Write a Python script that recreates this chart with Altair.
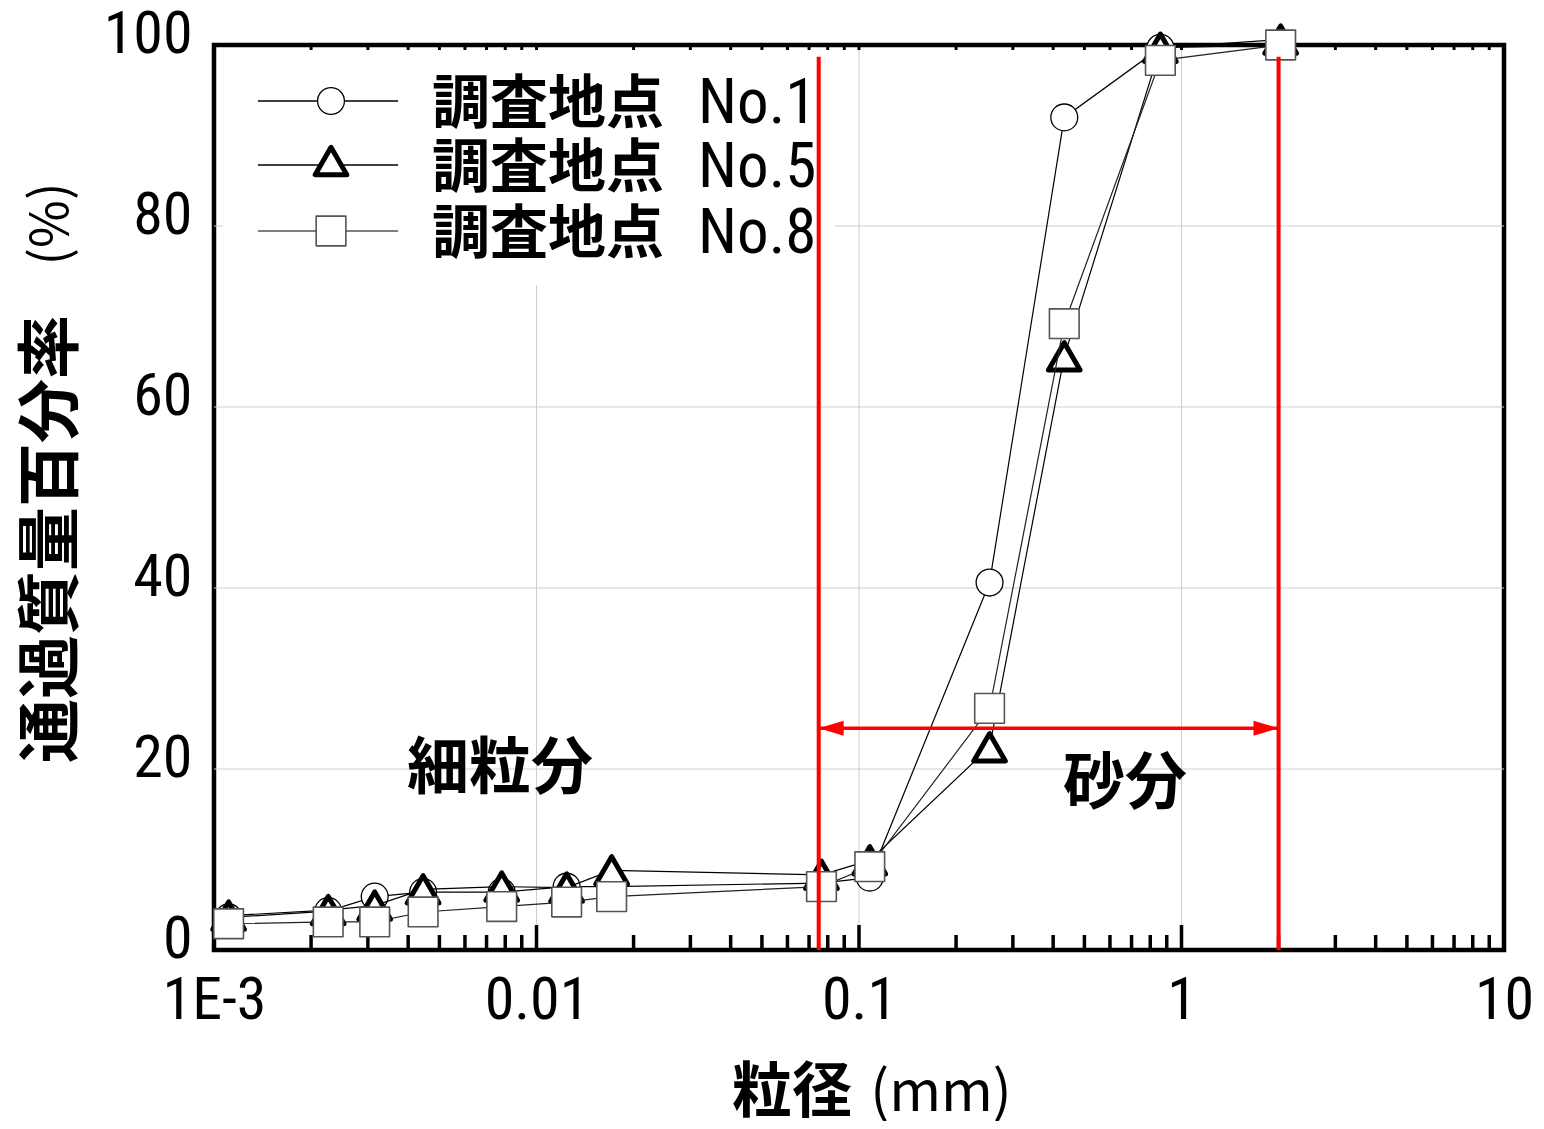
import altair as alt
import pandas as pd

# ---------------- data ----------------
size_mm = [0.00111, 0.00226, 0.00315, 0.00445, 0.0078, 0.0124, 0.0171,
           0.0765, 0.108, 0.254, 0.433, 0.86, 2.03]
no1 = [3.6, 4.3, 5.9, 6.4, 6.4, 7.0, 7.0, 7.4, 8.0, 40.6, 92.0, 99.7, 100.0]
no5 = [3.8, 4.4, 4.9, 6.7, 7.0, 6.9, 8.8, 8.3, 9.9, 22.4, 65.6, 99.7, 100.6]
no8 = [2.9, 3.1, 3.1, 4.2, 4.8, 5.3, 5.9, 7.0, 9.2, 26.7, 69.2, 98.3, 100.0]
series_prefix = "調査地点"
series_ids = ["No.1", "No.5", "No.8"]

x_ticks = [0.001, 0.01, 0.1, 1, 10]
x_tick_labels = ["1E-3", "0.01", "0.1", "1", "10"]
y_ticks = [0, 20, 40, 60, 80, 100]
x_grid = [0.01, 0.1, 1]
y_grid = [20, 40, 60, 80]
decades = [0.001, 0.01, 0.1, 1]
minor_mult = [2, 3, 4, 5, 6, 7, 8, 9]

boundaries = [0.075, 2.0]          # fine / sand limits (mm)
boundary_top = 98.7
arrow_level = 24.5
annot_text = ["細粒分", "砂分"]
annot_d = [0.0077, 0.668]
annot_v = [19.9, 18.2]

# ---------------- layout ----------------
W, H = 1290, 905
NARROW = ("Liberation Sans Narrow, Arial Narrow, Roboto Condensed, Noto Sans Condensed, "
          "DejaVu Sans Condensed, sans-serif")
CJK = "Noto Sans CJK JP"

label_expr = ""
for i, (v, lab) in enumerate(zip(x_ticks, x_tick_labels)):
    if i < len(x_ticks) - 1:
        label_expr += f"datum.value < {v * 3} ? '{lab}' : "
    else:
        label_expr += f"'{lab}'"

xscale = alt.Scale(type="log", domain=[0.001, 10], nice=False)
yscale = alt.Scale(domain=[0, 100], nice=False, zero=False)
xaxis = alt.Axis(values=x_ticks, labelExpr=label_expr, title=None, grid=False,
                 ticks=False, tickSize=0, domain=False, labelFont=NARROW,
                 labelFontSize=60, labelPadding=21, labelFlush=False,
                 labelOverlap=False, labelColor="black")
yaxis = alt.Axis(values=y_ticks, title=None, grid=False, ticks=False, tickSize=0,
                 domain=False, labelFont=NARROW, labelFontSize=60, labelPadding=22,
                 labelOffset=-11, labelOverlap=False, labelColor="black")


def X(f="d"):
    return alt.X(f"{f}:Q", scale=xscale, axis=xaxis)


def Y(f="v"):
    return alt.Y(f"{f}:Q", scale=yscale, axis=yaxis)


one = pd.DataFrame({"a": [0]})
layers = []

# grid lines
layers.append(alt.Chart(pd.DataFrame({"d": x_grid})).mark_rule(color="#cfcfcf", strokeWidth=1)
              .encode(x=X(), y=alt.value(0), y2=alt.value(H)))
layers.append(alt.Chart(pd.DataFrame({"v": y_grid})).mark_rule(color="#cfcfcf", strokeWidth=1)
              .encode(y=Y(), x=alt.value(0), x2=alt.value(W)))

# legend background
layers.append(alt.Chart(one).mark_rect(color="white")
              .encode(x=alt.value(9), x2=alt.value(621), y=alt.value(3), y2=alt.value(240)))

# inside tick marks
minor = [m * d for d in decades for m in minor_mult]
layers.append(alt.Chart(pd.DataFrame({"d": x_grid})).mark_rule(color="black", strokeWidth=3.5)
              .encode(x=X(), y=alt.value(H), y2=alt.value(H - 25)))
layers.append(alt.Chart(pd.DataFrame({"d": minor})).mark_rule(color="black", strokeWidth=3.5)
              .encode(x=X(), y=alt.value(H), y2=alt.value(H - 15)))
layers.append(alt.Chart(pd.DataFrame({"d": minor + x_grid})).mark_rule(color="black", strokeWidth=3)
              .encode(x=X(), y=alt.value(0), y2=alt.value(5)))

# series
styles = [
    dict(shape="circle", size=720, stroke="black", strokeWidth=1.3, line="black"),
    dict(shape="triangle-up", size=1000, stroke="black", strokeWidth=5, line="black"),
    dict(shape="square", size=880, stroke="#555555", strokeWidth=1.6, line="#222222"),
]
for vals, st in zip([no1, no5, no8], styles):
    df = pd.DataFrame({"d": size_mm, "v": vals})
    layers.append(alt.Chart(df).mark_line(color=st["line"], strokeWidth=1.2)
                  .encode(x=X(), y=Y()))
    layers.append(alt.Chart(df).mark_point(shape=st["shape"], size=st["size"], filled=True,
                                           fill="white", stroke=st["stroke"],
                                           strokeWidth=st["strokeWidth"], opacity=1,
                                           strokeJoin="round")
                  .encode(x=X(), y=Y()))

# red boundary lines and arrow
bdf = pd.DataFrame({"d": boundaries, "v": [0, 0], "v2": [boundary_top, boundary_top]})
layers.append(alt.Chart(bdf).mark_rule(color="#ff0000", strokeWidth=4)
              .encode(x=X(), y=Y(), y2="v2:Q"))
adf = pd.DataFrame({"d": [boundaries[0]], "d2": [boundaries[1]], "v": [arrow_level]})
layers.append(alt.Chart(adf).mark_rule(color="#ff0000", strokeWidth=3.5)
              .encode(x=X(), x2="d2:Q", y=Y()))
layers.append(alt.Chart(pd.DataFrame({"d": [boundaries[1]], "v": [arrow_level]}))
              .mark_point(shape="M0,0L-2,-0.6L-2,0.6Z", size=625, filled=True,
                          color="#ff0000", opacity=1)
              .encode(x=X(), y=Y()))
layers.append(alt.Chart(pd.DataFrame({"d": [boundaries[0]], "v": [arrow_level]}))
              .mark_point(shape="M0,0L2,-0.6L2,0.6Z", size=625, filled=True,
                          color="#ff0000", opacity=1)
              .encode(x=X(), y=Y()))

# annotations
tdf = pd.DataFrame({"d": annot_d, "v": annot_v, "t": annot_text})
layers.append(alt.Chart(tdf).mark_text(font=CJK, fontWeight="bold", fontSize=62,
                                       align="center", baseline="middle", color="black")
              .encode(x=X(), y=Y(), text="t:N"))

# legend entries
rows_y = [56, 120, 186]
for i, (sid, st) in enumerate(zip(series_ids, styles)):
    ry = rows_y[i]
    layers.append(alt.Chart(one).mark_rule(color=st["line"] if i < 2 else "#555555", strokeWidth=1.3)
                  .encode(x=alt.value(44), x2=alt.value(184), y=alt.value(ry)))
    my = ry - 4 if i == 1 else ry
    layers.append(alt.Chart(one).mark_point(shape=st["shape"], size=st["size"], filled=True,
                                            fill="white", stroke=st["stroke"],
                                            strokeWidth=st["strokeWidth"], opacity=1,
                                            strokeJoin="round")
                  .encode(x=alt.value(117), y=alt.value(my)))
    layers.append(alt.Chart(one).mark_text(text=series_prefix, font=CJK, fontWeight="bold",
                                           fontSize=58, align="left", baseline="middle",
                                           color="black")
                  .encode(x=alt.value(218), y=alt.value(ry + 5)))
    layers.append(alt.Chart(one).mark_text(text=sid, font=NARROW, fontSize=63,
                                           align="left", baseline="middle", color="black")
                  .encode(x=alt.value(484), y=alt.value(ry + 3)))

# axis titles
layers.append(alt.Chart(one).mark_text(text="粒径", font=CJK, fontWeight="bold", fontSize=60,
                                       align="center", baseline="middle", color="black")
              .encode(x=alt.value(578), y=alt.value(1049)))
layers.append(alt.Chart(one).mark_text(text="(mm)", font=CJK, fontSize=56,
                                       align="center", baseline="middle", color="black")
              .encode(x=alt.value(727), y=alt.value(1049)))
layers.append(alt.Chart(one).mark_text(text="通過質量百分率", font=CJK, fontWeight="bold",
                                       fontSize=64, angle=270, align="center",
                                       baseline="middle", color="black")
              .encode(x=alt.value(-161), y=alt.value(494)))
layers.append(alt.Chart(one).mark_text(text="(%)", font=CJK, fontSize=52, angle=270,
                                       align="center", baseline="middle", color="black")
              .encode(x=alt.value(-162), y=alt.value(179)))

chart = alt.layer(*layers).properties(
    width=W, height=H,
    autosize=alt.AutoSizeParams(type="none"),
    padding={"left": 206, "top": 37, "right": 32, "bottom": 171},
    background="white",
).configure_view(stroke="black", strokeWidth=4.5)

chart.save("out.html", embed_options={"renderer": "svg", "actions": False})
